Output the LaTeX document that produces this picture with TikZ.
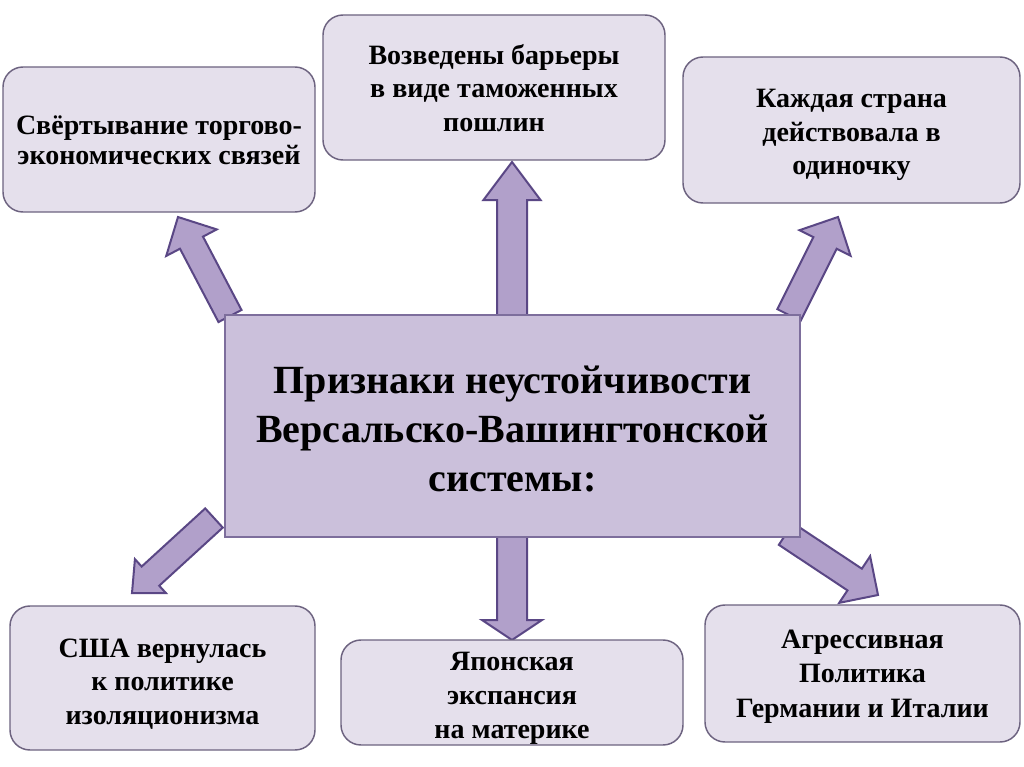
\documentclass[tikz,border=0pt]{standalone}
\usepackage{fontspec}
\setmainfont{Liberation Serif}
\usetikzlibrary{calc}
\definecolor{boxfill}{HTML}{E5E0EC}
\definecolor{boxdraw}{HTML}{6D6380}
\definecolor{centerfill}{HTML}{CBC0DB}
\definecolor{centerdraw}{HTML}{7D6E9C}
\definecolor{arrowfill}{HTML}{B1A0CA}
\definecolor{arrowdraw}{HTML}{5A4785}
\newcommand\blockarr[5]{%
  \coordinate (ba-c) at ($(#2)!#3!(#1)$);
  \draw[blockarrow] ($(#1)!#4!90:(#2)$) -- ($(ba-c)!#4!90:(#2)$) -- ($(ba-c)!#5!90:(#2)$) -- (#2)
    -- ($(ba-c)!#5!-90:(#2)$) -- ($(ba-c)!#4!-90:(#2)$) -- ($(#1)!#4!-90:(#2)$) -- cycle;
}
\begin{document}
\begin{tikzpicture}[x=0.75pt,y=-0.75pt,
  smallbox/.style={draw=boxdraw, fill=boxfill, line width=1.1pt, rounded corners=15pt},
  boxtext/.style={align=center, font=\fontsize{21}{25}\selectfont\bfseries, inner sep=2pt},
  centerbox/.style={draw=centerdraw, fill=centerfill, line width=1.1pt},
  centertext/.style={align=center, font=\fontsize{30}{36.5}\selectfont\bfseries},
  blockarrow/.style={draw=arrowdraw, fill=arrowfill, line width=1.5pt, line join=miter}]
\useasboundingbox (0,0) rectangle (1024,767);
\fill[white] (0,0) rectangle (1024,767);

% arrow end points
\coordinate (ulA) at (230,316); \coordinate (ulB) at (178,217);
\coordinate (upA) at (512,318); \coordinate (upB) at (512,162);
\coordinate (urA) at (789,315); \coordinate (urB) at (838,217);
\coordinate (llA) at (214,518); \coordinate (llB) at (132,593);
\coordinate (dnA) at (512,535); \coordinate (dnB) at (512,640);
\coordinate (lrA) at (786,534); \coordinate (lrB) at (878,595);

\blockarr{ulA}{ulB}{21.75pt}{9.75pt}{21.4pt}
\blockarr{upA}{upB}{28.5pt}{11.25pt}{21.4pt}
\blockarr{urA}{urB}{21.75pt}{9.75pt}{21.4pt}
\blockarr{llA}{llB}{18.75pt}{9.75pt}{17.25pt}
\blockarr{dnA}{dnB}{15pt}{11.25pt}{22.5pt}
\blockarr{lrA}{lrB}{21pt}{9.75pt}{21pt}

\node[centerbox, minimum width=431.25pt, minimum height=166.5pt] (center) at (512.5,426) {};
\node[centertext] (centert) at (512.5,429)
  {Признаки неустойчивости\\Версальско-Вашингтонской\\системы:};

\node[smallbox, minimum width=234pt, minimum height=108.75pt] (b1) at (159,139.5) {};
\node[boxtext, font=\fontsize{21}{22.5}\selectfont\bfseries] (t1) at (159,140.5)
  {Свёртывание торгово-\\экономических связей};
\node[smallbox, minimum width=256.5pt, minimum height=108.75pt] (b2) at (494,87.5) {};
\node[boxtext] (t2) at (494,88)
  {Возведены барьеры\\в виде таможенных\\пошлин};
\node[smallbox, minimum width=252.75pt, minimum height=109.5pt] (b3) at (851.5,130) {};
\node[boxtext] (t3) at (851.5,135)
  {Каждая страна\\действовала в\\одиночку};
\node[smallbox, minimum width=228.75pt, minimum height=108pt] (b5) at (162.5,678) {};
\node[boxtext] (t5) at (162.5,684)
  {США вернулась\\к политике\\изоляционизма};
\node[smallbox, minimum width=256.5pt, minimum height=78.75pt] (b6) at (512,692.5) {};
\node[boxtext, font=\fontsize{21}{25.5}\selectfont\bfseries] (t6) at (512,698.5)
  {Японская\\экспансия\\на материке};
\node[smallbox, minimum width=236.25pt, minimum height=102.75pt] (b7) at (862.5,673.5) {};
\node[boxtext, font=\fontsize{21}{26}\selectfont\bfseries] (t7) at (862.5,676.5)
  {Агрессивная\\Политика\\Германии и Италии};
\end{tikzpicture}
\end{document}
